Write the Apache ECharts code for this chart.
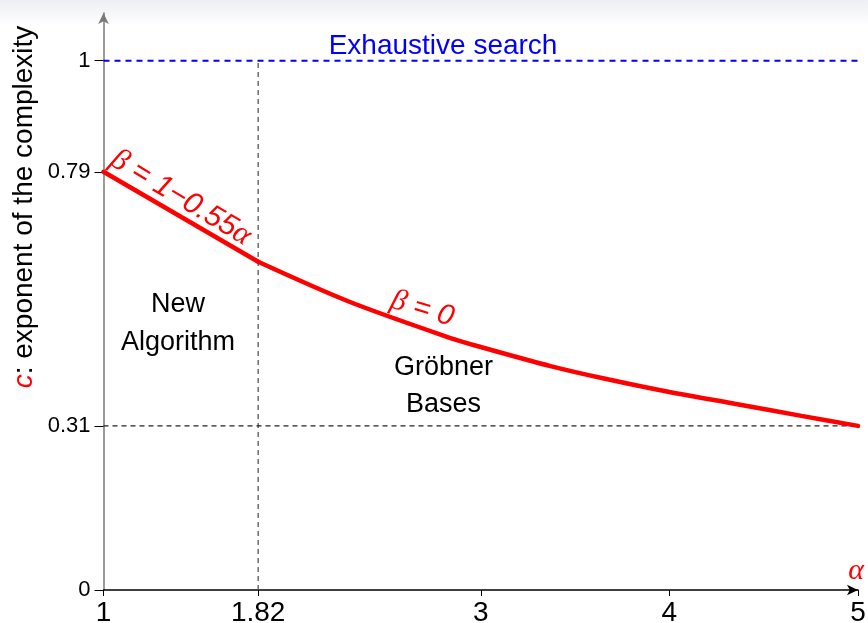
<!DOCTYPE html>
<html>
<head>
<meta charset="utf-8">
<script src="https://cdn.jsdelivr.net/npm/echarts@6/dist/echarts.min.js"></script>
<style>
  html, body { margin: 0; padding: 0; background: #ffffff; }
  #chart { width: 868px; height: 623px; }
</style>
</head>
<body>
<div id="chart"></div>
<script>
// Exponent c of the complexity as a function of alpha (m = alpha * n)
const alpha = [1, 1.82, 2.3, 2.84, 3, 3.37, 3.66, 4, 4.36, 4.7, 5];
const exponent = [0.79, 0.62, 0.545, 0.476, 0.459, 0.423, 0.399, 0.374, 0.351, 0.329, 0.31];

// Reference levels
const exhaustiveLevel = 1;
const crossoverAlpha = 1.82;
const gbFloor = 0.31;

// Tick labels
const xTicks = [1, 1.82, 3, 4, 5];
const yTicks = [0, 0.31, 0.79, 1];

const SANS = '"Liberation Sans", Arial, Helvetica, sans-serif';
const SERIF = '"Liberation Serif", "DejaVu Serif", serif';
const RED = '#ff0000';
const BLUE = '#0000ff';

const chart = echarts.init(document.getElementById('chart'), null, { renderer: 'canvas' });

const curve = alpha.map((a, i) => [a, exponent[i]]);
const split = alpha.indexOf(crossoverAlpha);
// straight part up to the crossover, smooth part afterwards
const linearPart = curve.slice(0, split + 1);
const gbPart = curve.slice(split);

function textPoint(pos, label) {
  return {
    type: 'scatter',
    symbolSize: 0,
    silent: true,
    z: 5,
    itemStyle: { opacity: 1 },
    data: [pos],
    label: Object.assign({ show: true, position: 'inside', textBorderWidth: 0 }, label)
  };
}

const option = {
  animation: false,
  backgroundColor: '#ffffff',
  graphic: [
    {
      type: 'rect',
      z: -10,
      shape: { x: 0, y: 0, width: 868, height: 26 },
      style: {
        fill: {
          type: 'linear', x: 0, y: 0, x2: 0, y2: 1,
          colorStops: [
            { offset: 0, color: '#eceff5' },
            { offset: 1, color: '#ffffff' }
          ]
        }
      }
    },
    {
      type: 'text',
      x: 24,
      y: 207,
      rotation: Math.PI / 2,
      z: 10,
      style: {
        text: '{c|c}: exponent of the complexity',
        align: 'center',
        verticalAlign: 'middle',
        fontFamily: SANS,
        fontSize: 28,
        fill: '#000000',
        rich: {
          c: { fontFamily: SANS, fontSize: 28, fontStyle: 'italic', fill: RED }
        }
      }
    }
  ],
  grid: { left: 103.5, right: 10, top: 13, bottom: 33, containLabel: false, outerBoundsMode: 'none' },
  xAxis: {
    type: 'value',
    min: 1,
    max: 5,
    name: 'α',
    nameLocation: 'end',
    nameGap: -2,
    nameTextStyle: {
      color: RED, fontFamily: SERIF, fontStyle: 'italic', fontSize: 30,
      align: 'center', verticalAlign: 'bottom', padding: [0, 0, 4, 0]
    },
    axisLine: {
      show: true,
      onZero: false,
      symbol: ['none', 'arrow'],
      symbolSize: [8, 11],
      lineStyle: { color: '#000000', width: 1.5 }
    },
    axisTick: {
      show: true, inside: false, length: 6,
      customValues: xTicks,
      lineStyle: { color: '#000000', width: 1 }
    },
    axisLabel: {
      show: true,
      customValues: xTicks,
      margin: 9,
      color: '#000000',
      fontFamily: SANS,
      fontSize: 28,
      formatter: v => String(v)
    },
    splitLine: { show: false }
  },
  yAxis: {
    type: 'value',
    min: 0,
    max: 1.09,
    axisLine: {
      show: true,
      onZero: false,
      symbol: ['none', 'arrow'],
      symbolSize: [8, 11],
      lineStyle: { color: '#7a7a7a', width: 1.5 }
    },
    axisTick: {
      show: true, inside: false, length: 9,
      customValues: yTicks,
      lineStyle: { color: '#000000', width: 1 }
    },
    axisLabel: {
      show: true,
      customValues: yTicks,
      margin: 13,
      color: '#000000',
      fontFamily: SANS,
      fontSize: 22,
      formatter: v => String(v)
    },
    splitLine: { show: false }
  },
  series: [
    {
      name: 'Exhaustive search',
      type: 'line',
      symbol: 'none',
      silent: true,
      data: [[1, exhaustiveLevel], [5, exhaustiveLevel]],
      lineStyle: { color: BLUE, width: 2, type: [6, 5] }
    },
    {
      name: 'crossover',
      type: 'line',
      symbol: 'none',
      silent: true,
      data: [[crossoverAlpha, 0], [crossoverAlpha, exhaustiveLevel]],
      lineStyle: { color: '#555555', width: 1.3, type: [5, 4] }
    },
    {
      name: 'floor',
      type: 'line',
      symbol: 'none',
      silent: true,
      data: [[1, gbFloor], [5, gbFloor]],
      lineStyle: { color: '#222222', width: 1.2, type: [5, 4] }
    },
    {
      name: 'c (new algorithm)',
      type: 'line',
      symbol: 'none',
      z: 4,
      data: linearPart,
      lineStyle: { color: RED, width: 4.5, cap: 'round' }
    },
    {
      name: 'c (Gröbner bases)',
      type: 'line',
      symbol: 'none',
      smooth: 0.3,
      z: 4,
      data: gbPart,
      lineStyle: { color: RED, width: 4.5, cap: 'round' }
    },
    textPoint([2.8, 1.028], {
      formatter: 'Exhaustive search',
      color: BLUE, fontFamily: SANS, fontSize: 28
    }),
    textPoint([1.395, 0.503], {
      formatter: 'New\nAlgorithm',
      color: '#000000', fontFamily: SANS, fontSize: 27, lineHeight: 38, align: 'center'
    }),
    textPoint([2.803, 0.385], {
      formatter: 'Gröbner\nBases',
      color: '#000000', fontFamily: SANS, fontSize: 27, lineHeight: 37, align: 'center'
    }),
    textPoint([2.69, 0.531], {
      formatter: '{g|β} = 0',
      rotate: -17,
      color: RED, fontFamily: SANS, fontStyle: 'italic', fontSize: 29,
      rich: { g: { color: RED, fontFamily: SERIF, fontStyle: 'italic', fontSize: 30 } }
    }),
    textPoint([1.41, 0.741], {
      formatter: '{g|β} = 1−0.55{g|α}',
      rotate: -31,
      color: RED, fontFamily: SANS, fontStyle: 'italic', fontSize: 30,
      rich: { g: { color: RED, fontFamily: SERIF, fontStyle: 'italic', fontSize: 31 } }
    })
  ]
};

chart.setOption(option);
</script>
</body>
</html>
